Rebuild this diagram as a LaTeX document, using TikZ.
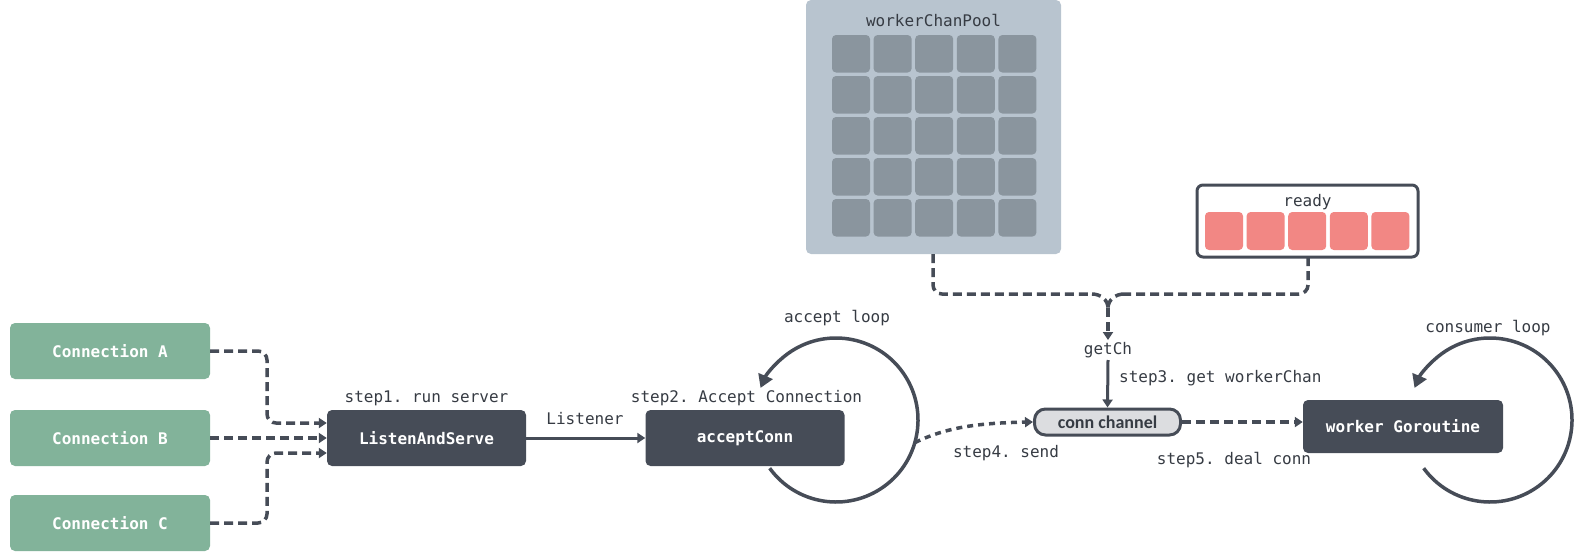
\documentclass[tikz,border=0pt]{standalone}
\usepackage{fontspec}
\setmonofont{DejaVu Sans Mono}
\newfontfamily\ccfont{Carlito}
\usetikzlibrary{arrows.meta,calc}
\definecolor{dk}{HTML}{464C57}
\definecolor{txt}{HTML}{363B43}
\definecolor{grn}{HTML}{82B39A}
\definecolor{poolbg}{HTML}{B8C4CF}
\definecolor{cellc}{HTML}{8A959E}
\definecolor{redc}{HTML}{F28784}
\definecolor{ccfill}{HTML}{DCDDE0}
\newcommand{\mfont}{\fontsize{16}{19}\selectfont\ttfamily}
\begin{document}
\begin{tikzpicture}[x=1pt,y=1pt,
  connbox/.style={fill=grn, rounded corners=5pt, minimum width=200pt, minimum height=56pt, inner sep=0pt, text=white, font=\mfont\bfseries},
  darkbox/.style={fill=dk, rounded corners=5pt, minimum width=199pt, minimum height=56pt, inner sep=0pt, text=white, font=\mfont\bfseries},
  lbl/.style={text=txt, font=\mfont, inner sep=2pt},
  dsh/.style={draw=dk, line width=3.5pt, dash pattern=on 9pt off 5pt},
  sol/.style={draw=dk, line width=3pt},
  arr/.style={-{Triangle[length=8pt,width=10pt]}},
  bigarr/.style={-{Triangle[length=13pt,width=15pt]}}
]
\useasboundingbox (0,0) rectangle (1576,-554);

% left connections
\node[connbox] (A) at (110,-351) {Connection A};
\node[connbox] (B) at (110,-438) {Connection B};
\node[connbox] (C) at (110,-523) {Connection C};
\node[darkbox] (las) at (426.5,-438) {ListenAndServe};
\node[darkbox] (acc) at (745,-438) {acceptConn};
\node[lbl] (s1) at (426.5,-398) {step1. run server};
\node[lbl] (lis) at (585,-419) {Listener};
\node[lbl] (s2) at (746.5,-398) {step2. Accept Connection};
\node[lbl] (al) at (837,-318) {accept loop};

\draw[dsh, arr, rounded corners=9pt] (A.east) -- (267,-351) -- (267,-423) -- ([yshift=15pt]las.west);
\draw[dsh, arr] (B.east) -- (las.west);
\draw[dsh, arr, rounded corners=9pt] (C.east) -- (267,-523) -- (267,-453) -- ([yshift=-15pt]las.west);
\draw[sol, arr] (las.east) -- (acc.west);

% accept loop
\coordinate (ac) at (836,-420);
\draw[sol, line width=3.5pt, bigarr] ($(ac)+(216:82)$) arc[start angle=216, end angle=517, radius=82];

% pool
\fill[poolbg, rounded corners=5pt] (806,0) rectangle (1061,-254);
\node[lbl] (pooltitle) at (933.5,-20) {workerChanPool};
\foreach \i in {0,...,4} {
  \foreach \j in {0,...,4} {
    \fill[cellc, rounded corners=4pt] (832+41.6*\i,-35-41*\j) rectangle ++(38,-37.5);
  }
}
\coordinate (poolout) at (933,-254);

% ready
\draw[draw=dk, line width=3pt, fill=white, rounded corners=6pt] (1197,-185) rectangle (1418,-257);
\node[lbl] (rd) at (1307.5,-202) {ready};
\foreach \i in {0,...,4} {
  \fill[redc, rounded corners=4pt] (1205+41.6*\i,-212) rectangle ++(38,-38);
}
\coordinate (rdout) at (1308,-257);

% getCh
\node[lbl] (getch) at (1108,-350) {getCh};
\coordinate (mrg) at (1108,-308);
\draw[dsh, rounded corners=9pt] (poolout) -- (933,-294) -- (1092,-294);
\draw[dsh] (1092,-294) to[out=0,in=90] (mrg);
\draw[dsh, rounded corners=9pt] (rdout) -- (1308,-294) -- (1124,-294);
\draw[dsh] (1124,-294) to[out=180,in=90] (mrg);
\draw[dsh, arr] (mrg) -- (getch.north);

% conn channel
\node[draw=dk, line width=3pt, fill=ccfill, rounded corners=11pt, minimum width=146pt, minimum height=26pt, inner sep=0pt, text=txt, font=\ccfont\bfseries\fontsize{18}{20}\selectfont] (cc) at (1107.5,-422) {conn channel};
\draw[sol, arr] (getch.south) -- (cc.north);
\node[lbl, anchor=west] (s3) at (1117,-378) {step3. get workerChan};

% worker
\node[darkbox, minimum width=200pt, minimum height=53pt] (wg) at (1403,-426.5) {worker Goroutine};
\draw[dsh, arr] (cc.east) -- (cc.east -| wg.west);
\node[lbl] (s5) at (1234,-460) {step5. deal conn};

% step4
\coordinate (s4o) at ($(ac)+(-16:82)$);
\draw[dsh, dash pattern=on 6pt off 5pt, arr] (s4o) .. controls (945,-428) and (975,-423) .. (cc.west);
\node[lbl] (s4) at (1006,-453) {step4. send};

% consumer loop
\coordinate (cl) at (1490,-420);
\draw[sol, line width=3.5pt, bigarr] ($(cl)+(216:82)$) arc[start angle=216, end angle=517, radius=82];
\node[lbl] (clabel) at (1488,-328) {consumer loop};
\end{tikzpicture}
\end{document}
